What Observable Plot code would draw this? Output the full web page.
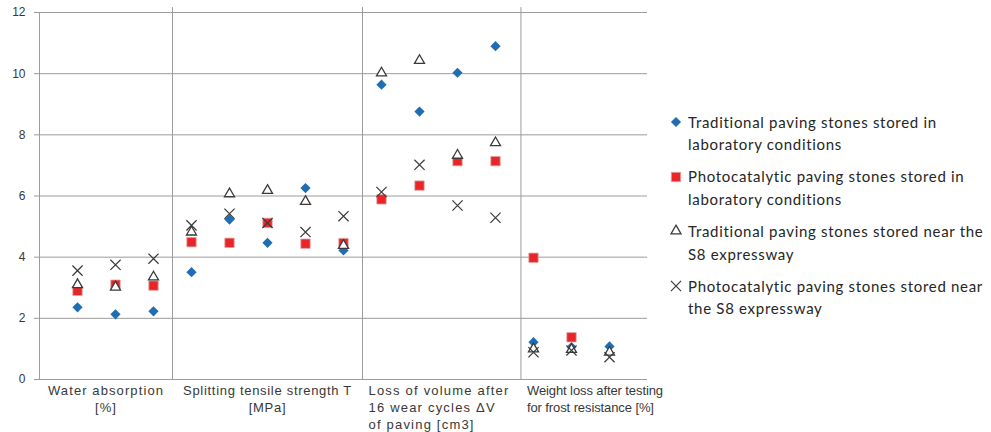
<!DOCTYPE html>
<html>
<head>
<meta charset="utf-8">
<script src="https://cdn.jsdelivr.net/npm/d3@7"></script>
<script src="https://cdn.jsdelivr.net/npm/@observablehq/plot@0.6"></script>
<style>
  body { margin: 0; background: #fff; }
  #wrap { position: relative; width: 991px; height: 432px; overflow: hidden; }
  #chart { position: absolute; left: 0; top: 0; }
  #legend { position: absolute; left: 668px; top: 110.7px; font-family: Lato, "Open Sans", sans-serif; font-size: 15px; letter-spacing: 0.7px; color: #262626; }
  .item { position: relative; padding-left: 20px; line-height: 22.5px; margin-bottom: 9.7px; white-space: nowrap; }
  .item svg { position: absolute; left: 0; top: 3.3px; overflow: visible; }
  .cat0 text { letter-spacing: 1.1px; }
  .cat1 text { letter-spacing: 0.7px; }
  .cat2 text { letter-spacing: 1.2px; }
  .cat3 text { letter-spacing: -0.1px; }
</style>
</head>
<body>
<div id="wrap"><div id="chart"></div><div id="legend"></div></div>
<script>
// ---- data ----
const slots = [1, 2, 3, 4, 5, 6, 7, 8, 9, 10, 11, 12, 13, 14, 15];
const traditionalLab   = [2.36, 2.13, 2.23, 3.51, 5.23, 4.47, 6.26, 4.22, 9.64, 8.76, 10.03, 10.9, 1.22, 1.06, 1.08];
const photocatalyticLab = [2.9, 3.1, 3.07, 4.49, 4.47, 5.12, 4.44, 4.46, 5.89, 6.34, 7.14, 7.14, 3.98, 1.38, null];
const traditionalS8    = [3.1, 3.02, 3.35, 4.82, 6.07, 6.18, 5.82, 4.38, 10.02, 10.43, 7.33, 7.74, 1.0, 0.98, 0.89];
const photocatalyticS8 = [3.56, 3.75, 3.95, 5.04, 5.42, 5.12, 4.82, 5.34, 6.13, 7.02, 5.69, 5.29, 0.89, 0.95, 0.73];

const seriesNames = [
  "Traditional paving stones stored in laboratory conditions",
  "Photocatalytic paving stones stored in laboratory conditions",
  "Traditional paving stones stored near the S8 expressway",
  "Photocatalytic paving stones stored near the S8 expressway"
];
const legendLines = [
  ["Traditional paving stones stored in", "laboratory conditions"],
  ["Photocatalytic paving stones stored in", "laboratory conditions"],
  ["Traditional paving stones stored near the", "S8 expressway"],
  ["Photocatalytic paving stones stored near", "the S8 expressway"]
];
const categoryLabels = [
  "Water absorption\n[%]",
  "Splitting tensile strength T\n[MPa]",
  "Loss of volume after\n16 wear cycles ΔV\nof paving [cm3]",
  "Weight loss after testing\nfor frost resistance [%]"
];
const categoryBounds = [0, 3.5, 8.5, 12.67, 16];
const yTicks = [0, 2, 4, 6, 8, 10, 12];

// ---- styles ----
const grid = "#9c9c9c";
const blue = "#1f6db3";
const red = "#e8262a";
const dark = "#3a3a3a";
const textColor = "#383838";

const rows = (vals) => slots.map((s, i) => ({x: s, y: vals[i]})).filter(d => d.y != null);

const cats = categoryLabels.map((t, i) => ({
  text: t,
  lo: categoryBounds[i],
  mid: (categoryBounds[i] + categoryBounds[i + 1]) / 2,
  center: i < 2
}));

const catMarks = cats.map((c, i) => Plot.text([c], {
  x: c.center ? "mid" : "lo",
  y: () => 0,
  text: "text",
  lineAnchor: "top",
  textAnchor: c.center ? "middle" : "start",
  dx: c.center ? 0 : 6,
  dy: 3.5,
  lineHeight: 1.3,
  fontSize: 13,
  fill: textColor,
  className: "cat" + i
}));

const chart = Plot.plot({
  width: 660,
  height: 432,
  marginLeft: 39,
  marginRight: 13,
  marginTop: 12,
  marginBottom: 53,
  style: {fontFamily: "'Liberation Sans', Arial, sans-serif", fontSize: "12px", color: textColor, background: "transparent", overflow: "visible"},
  x: {domain: [0, 16], axis: null},
  y: {domain: [0, 12], axis: null},
  marks: [
    Plot.ruleY(yTicks, {x1: 0, x2: 16, stroke: grid, strokeWidth: 1}),
    Plot.ruleX([0], {y1: 0, y2: 12, stroke: grid}),
    Plot.ruleX(categoryBounds.slice(1, 4), {y1: 0, y2: 12.16, stroke: grid}),
    Plot.axisY(yTicks, {tickSize: 5, tickPadding: 9, stroke: grid, fill: textColor, label: null, fontSize: 12}),
    Plot.dot(rows(traditionalLab), {x: "x", y: "y", symbol: d3.symbolDiamond2, r: 4.6, fill: blue, stroke: "none"}),
    Plot.dot(rows(photocatalyticLab), {x: "x", y: "y", symbol: "square", r: 5.3, fill: red, stroke: "#e2a3a3", strokeWidth: 0.8}),
    Plot.dot(rows(traditionalS8), {x: "x", y: "y", symbol: "triangle2", r: 4.8, fill: "white", stroke: dark, strokeWidth: 1.3}),
    Plot.dot(rows(photocatalyticS8), {x: "x", y: "y", symbol: "times", r: 4.7, fill: "none", stroke: dark, strokeWidth: 1.2}),
    ...catMarks
  ]
});
document.getElementById("chart").append(chart);

// ---- legend ----
const legendSymbols = [
  {type: d3.symbolDiamond2, r: 4.6, fill: blue, stroke: "none", sw: 0},
  {type: d3.symbolSquare, r: 5.3, fill: red, stroke: "#e2a3a3", sw: 0.8},
  {type: d3.symbolTriangle2, r: 4.8, fill: "white", stroke: dark, sw: 1.3},
  {type: d3.symbolTimes, r: 4.7, fill: "none", stroke: dark, sw: 1.2}
];
const legend = d3.select("#legend");
legendLines.forEach((lines, i) => {
  const s = legendSymbols[i];
  const item = legend.append("div").attr("class", "item").attr("title", seriesNames[i]);
  const svg = item.append("svg").attr("width", 16).attr("height", 16);
  svg.append("path")
    .attr("transform", "translate(8,8)")
    .attr("d", d3.symbol(s.type, Math.PI * s.r * s.r)())
    .attr("fill", s.fill).attr("stroke", s.stroke).attr("stroke-width", s.sw);
  item.append("div").text(lines[0]);
  item.append("div").text(lines[1]);
});
</script>
</body>
</html>
